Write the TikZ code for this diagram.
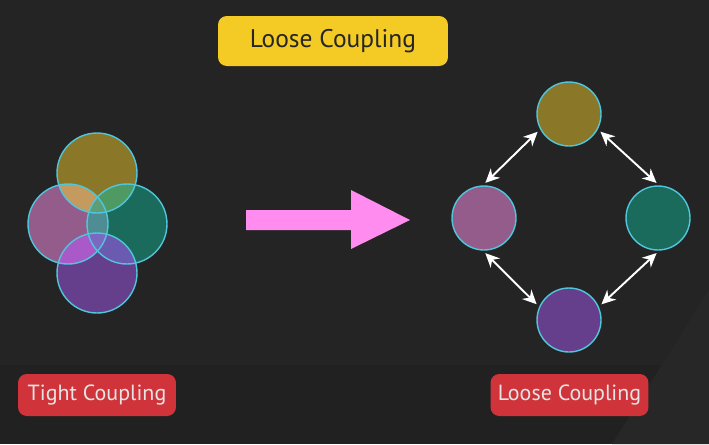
\documentclass[tikz,border=0pt]{standalone}
\usepackage{fontspec}
\setmainfont{PT Sans}
\usetikzlibrary{arrows.meta}
\definecolor{bgdark}{HTML}{242424}
\definecolor{bglow}{HTML}{212121}
\definecolor{bglight}{HTML}{272727}
\definecolor{ring}{HTML}{4FC6DC}
\definecolor{olive}{HTML}{8A7828}
\definecolor{mauve}{HTML}{945C8B}
\definecolor{teal}{HTML}{1A6B5B}
\definecolor{grape}{HTML}{653E8C}
\definecolor{olivemauve}{HTML}{C49A5E}
\definecolor{oliveteal}{HTML}{4E9A62}
\definecolor{mauveteal}{HTML}{4E8D93}
\definecolor{threetop}{HTML}{5E9E76}
\definecolor{mauvegrape}{HTML}{A95AC8}
\definecolor{tealgrape}{HTML}{6A5AB0}
\definecolor{threebottom}{HTML}{7B68C0}
\definecolor{pinkarrow}{HTML}{FF8CEE}
\definecolor{tagred}{HTML}{D0343A}
\definecolor{tagyellow}{HTML}{F4CB24}
\tikzset{
        ball/.style={circle, draw=ring, line width=0.8pt, inner sep=0pt},
        bigball/.style={circle, inner sep=0pt, minimum size=1.6cm},
        bigring/.style={draw=ring, line width=0.8pt},
        smallball/.style={ball, minimum size=1.28cm},
        link/.style={draw=white, line width=1.1pt, {Stealth[length=8pt,width=7.5pt]}-{Stealth[length=8pt,width=7.5pt]}, shorten <=2pt, shorten >=2pt},
        tag/.style={rounded corners=5pt, inner sep=0pt, font=\fontsize{12.5}{15}\selectfont, text=white!90!black},
        redtag/.style={tag, fill=tagred, minimum width=3.16cm, minimum height=0.84cm},
        yellowtag/.style={tag, fill=tagyellow, text=black!85!white, minimum width=4.6cm, minimum height=1cm, font=\fontsize{14.5}{17}\selectfont}
          }
\newcommand{\lens}[3]{%
  \begin{scope}
    \clip (#1.center) circle[radius=0.8cm];
    \fill[#3] (#2.center) circle[radius=0.8cm];
  \end{scope}}
\begin{document}
\begin{tikzpicture}[x=0.02cm, y=-0.02cm]
            \fill[bgdark] (0,0) rectangle (709,444);
            \fill[bglow] (0,365) rectangle (709,444);
            \fill[bglight] (612,444) -- (709,290) -- (709,444) -- cycle;
            \useasboundingbox (0,0) rectangle (709,444);

            \node[yellowtag] (title) at (333,41) {Loose Coupling};

            \node[bigball, fill=olive] (tight top) at (97,173) {};
            \node[bigball, fill=mauve] (tight left) at (68,224) {};
            \node[bigball, fill=teal] (tight right) at (127,224) {};
            \node[bigball, fill=grape] (tight bottom) at (97,273) {};

            \lens{tight top}{tight left}{olivemauve}
            \lens{tight top}{tight right}{oliveteal}
            \lens{tight left}{tight right}{mauveteal}
            \lens{tight left}{tight bottom}{mauvegrape}
            \lens{tight right}{tight bottom}{tealgrape}
            \begin{scope}
              \clip (tight left.center) circle[radius=0.8cm];
              \lens{tight right}{tight top}{threetop}
              \lens{tight right}{tight bottom}{threebottom}
            \end{scope}
            \foreach \c in {tight top, tight left, tight right, tight bottom}
              \draw[bigring] (\c.center) circle[radius=0.8cm];

            \fill[pinkarrow] (246,210) -- (351,210) -- (351,190) -- (410,220)
              -- (351,249) -- (351,230) -- (246,230) -- cycle;

            \node[smallball, fill=olive] (loose top) at (569,114) {};
            \node[smallball, fill=mauve] (loose left) at (484,218) {};
            \node[smallball, fill=teal] (loose right) at (658,218) {};
            \node[smallball, fill=grape] (loose bottom) at (569,320) {};

            \draw[link] (loose top.208) -- (loose left.92);
            \draw[link] (loose top.332) -- (loose right.88);
            \draw[link] (loose left.268) -- (loose bottom.156);
            \draw[link] (loose right.272) -- (loose bottom.24);

            \node[redtag] (tight tag) at (97,395) {Tight Coupling};
            \node[redtag] (loose tag) at (569.5,395) {Loose Coupling};
          \end{tikzpicture}
\end{document}
